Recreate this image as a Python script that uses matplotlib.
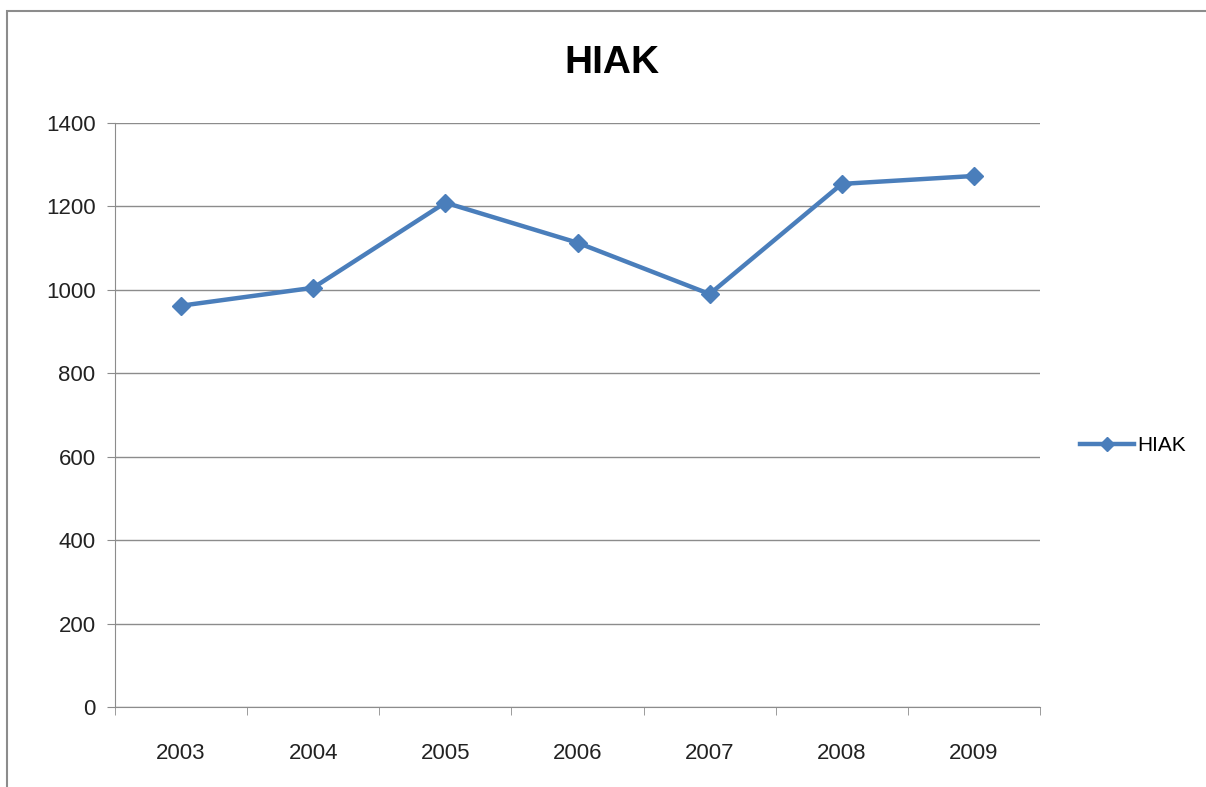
import matplotlib.pyplot as plt
from matplotlib.patches import Rectangle

years = ['2003', '2004', '2005', '2006', '2007', '2008', '2009']
hiak = [962, 1005, 1209, 1113, 990, 1254, 1273]

plt.rcParams['font.family'] = ['Liberation Sans', 'DejaVu Sans']

fig = plt.figure(figsize=(12.06, 7.87), dpi=100)
# chart frame (cropped at right and bottom in the original)
fig.patches.append(Rectangle((7 / 1206, -0.05), 1.2, 1 - 11 / 787 + 0.05,
                             transform=fig.transFigure, fill=False,
                             edgecolor='#8c8c8c', linewidth=1.5))
ax = fig.add_axes([115 / 1206, 1 - 707 / 787, (1040 - 115) / 1206, (707 - 123) / 787])

x = range(len(years))
ax.plot(x, hiak, color='#4a7ebb', linewidth=3.2, marker='D', markersize=9,
        label='HIAK')

ax.set_xlim(-0.5, len(years) - 0.5)
ax.set_ylim(0, 1400)
ax.set_yticks(range(0, 1401, 200))
ax.grid(axis='y', color='#8c8c8c', linewidth=1)
ax.set_axisbelow(True)

ax.set_xticks(x)
ax.set_xticklabels(years)
ax.set_xticks([i - 0.5 for i in range(len(years) + 1)], minor=True)
ax.tick_params(axis='x', which='major', length=0, pad=26, labelsize=16, colors='#222222')
ax.tick_params(axis='x', which='minor', length=6, color='#8c8c8c', direction='out')
ax.tick_params(axis='y', length=6, color='#8c8c8c', pad=8, labelsize=16, labelcolor='#222222')

for s in ['top', 'right']:
    ax.spines[s].set_visible(False)
for s in ['left', 'bottom']:
    ax.spines[s].set_color('#8c8c8c')

fig.text(612 / 1206, 1 - 63 / 787, 'HIAK', ha='center', va='center',
         fontsize=28, fontweight='bold')

ax.legend(loc='center left', bbox_to_anchor=(1.043, 0.448), frameon=False,
          borderpad=0, borderaxespad=0, fontsize=15, handlelength=2.6,
          handletextpad=0.15, markerscale=0.8)

fig.savefig('out.png', dpi=100)
